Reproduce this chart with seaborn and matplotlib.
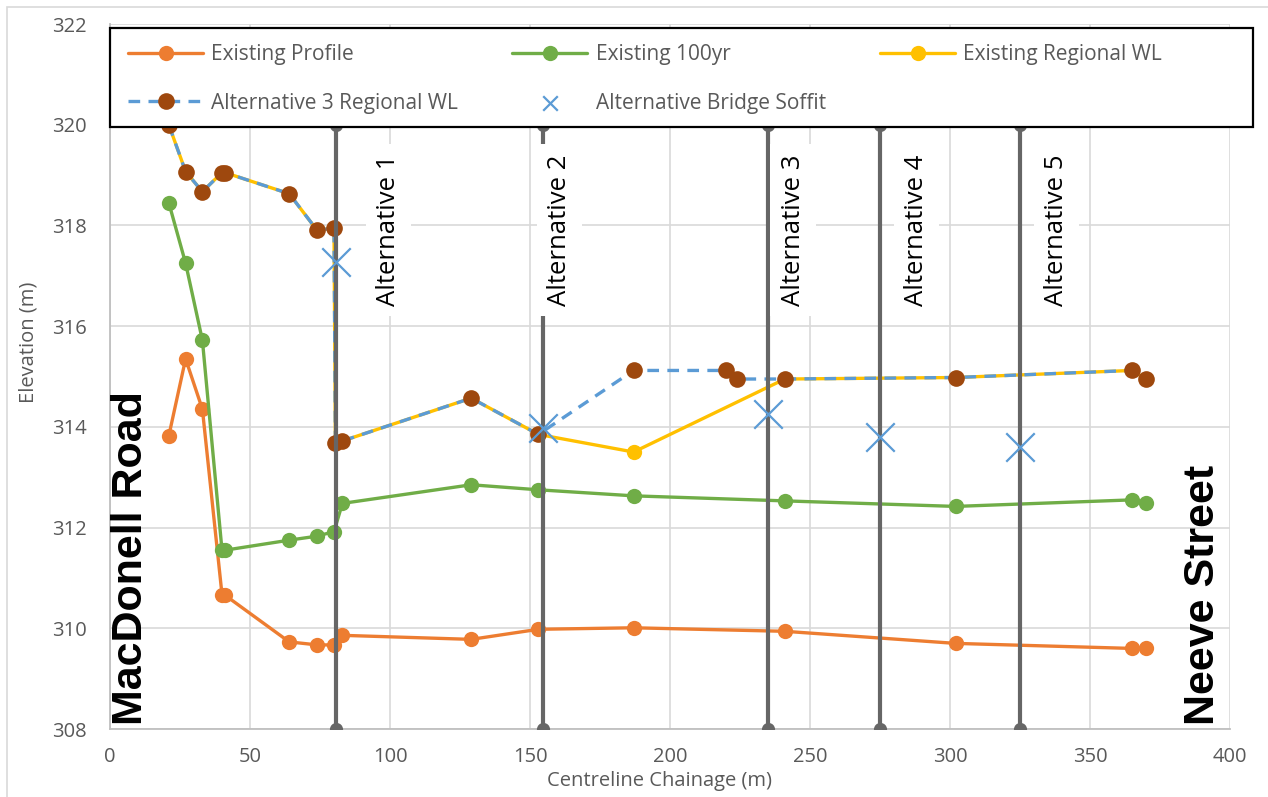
import matplotlib
matplotlib.use("Agg")
import matplotlib.pyplot as plt
import seaborn as sns
from matplotlib.patches import Rectangle

# Existing ground profile
profile_x = [21, 27, 33, 40, 41, 64, 74, 80, 83, 129, 153, 187, 241, 302, 365, 370]
profile_y = [313.82, 315.35, 314.35, 310.67, 310.66, 309.73, 309.67, 309.67, 309.86,
             309.78, 309.98, 310.01, 309.94, 309.70, 309.60, 309.60]

# Existing 100yr water level
flood_x = [21, 27, 33, 40, 41, 64, 74, 80, 83, 129, 153, 187, 241, 302, 365, 370]
flood_y = [318.45, 317.25, 315.72, 311.55, 311.55, 311.75, 311.83, 311.92, 312.48,
           312.85, 312.75, 312.63, 312.53, 312.42, 312.55, 312.48]

# Existing regional water level
regional_x = [21, 27, 33, 40, 41, 64, 74, 80, 80.5, 83, 129, 153, 187, 241, 302, 365, 370]
regional_y = [320.00, 319.07, 318.67, 319.05, 319.05, 318.63, 317.90, 317.95, 313.68,
              313.72, 314.57, 313.85, 313.50, 314.95, 314.98, 315.12, 314.95]

# Alternative 3 regional water level
alt3_x = [21, 27, 33, 40, 41, 64, 74, 80, 80.5, 83, 129, 153, 187, 220, 224, 241, 302, 365, 370]
alt3_y = [320.00, 319.07, 318.67, 319.05, 319.05, 318.63, 317.90, 317.95, 313.68, 313.72,
          314.57, 313.85, 315.12, 315.12, 314.95, 314.95, 314.98, 315.12, 314.95]

# Bridge alternatives
alt_names = ["Alternative 1", "Alternative 2", "Alternative 3", "Alternative 4", "Alternative 5"]
alt_x = [80.7, 154.7, 235, 275, 325]
alt_bottom = 308
alt_top = 320
soffit_y = [317.28, 313.97, 314.25, 313.80, 313.60]

# where the alternative labels sit
label_x = [99.5, 160.5, 244.0, 288.0, 338.0]
label_y = 317.9

c_orange = "#ED7D31"
c_green = "#70AD47"
c_yellow = "#FFC000"
c_brown = "#9E480E"
c_blue = "#5B9BD5"
c_gray = "#666666"
c_text = "#595959"

sns.set_style("white")
plt.rcParams["font.family"] = ["Open Sans", "DejaVu Sans"]

W, H = 1268, 797
fig = plt.figure(figsize=(W / 100, H / 100), dpi=100)
ax = fig.add_axes([110 / W, 1 - 729 / H, 1120 / W, 705 / H])

common = dict(sort=False, estimator=None, linewidth=2.4, marker="o", markersize=11,
              markeredgewidth=0, ax=ax, zorder=3)
sns.lineplot(x=profile_x, y=profile_y, color=c_orange, markerfacecolor=c_orange,
             label="Existing Profile", **common)
sns.lineplot(x=flood_x, y=flood_y, color=c_green, markerfacecolor=c_green,
             label="Existing 100yr", **common)
sns.lineplot(x=regional_x, y=regional_y, color=c_yellow, markerfacecolor=c_yellow,
             label="Existing Regional WL", **common)
sns.lineplot(x=alt3_x, y=alt3_y, sort=False, estimator=None, linewidth=2.4,
             linestyle=(0, (3.5, 2.5)), color=c_blue, marker="o", markersize=12,
             markerfacecolor=c_brown, markeredgecolor=c_brown, markeredgewidth=0,
             label="Alternative 3 Regional WL", ax=ax, zorder=4)

# vertical lines marking each bridge alternative
for x in alt_x:
    sns.lineplot(x=[x, x], y=[alt_bottom, alt_top], sort=False, estimator=None,
                 color=c_gray, linewidth=3, marker="o", markersize=9.5,
                 markerfacecolor=c_gray, markeredgewidth=0, ax=ax, zorder=5,
                 label="_nolegend_")

sns.scatterplot(x=alt_x, y=soffit_y, marker="x", s=420, color=c_blue, linewidth=1.6,
                ax=ax, zorder=6, label="Alternative Bridge Soffit")

for name, lx in zip(alt_names, label_x):
    ax.text(lx, label_y, name, rotation=90, ha="center", va="center", fontsize=18.5,
            color="black", zorder=7,
            bbox=dict(boxstyle="square,pad=0.4", fc="white", ec="none"))

ax.text(7.5, 308.08, "MacDonell Road", rotation=90, ha="center", va="bottom",
        fontsize=31, fontweight="bold", family="Liberation Sans", color="black", zorder=7)
ax.text(390.5, 308.08, "Neeve Street", rotation=90, ha="center", va="bottom",
        fontsize=31, fontweight="bold", family="Liberation Sans", color="black", zorder=7)

ax.set_xlim(0, 400)
ax.set_ylim(308, 322)
ax.set_xticks(range(0, 401, 50))
ax.set_yticks(range(308, 323, 2))
ax.grid(True, color="#D9D9D9", linewidth=1.2)
ax.set_axisbelow(True)
for side in ["top", "right"]:
    ax.spines[side].set_visible(False)
for side in ["left", "bottom"]:
    ax.spines[side].set_color("#BFBFBF")
    ax.spines[side].set_linewidth(1.3)
ax.tick_params(length=0, labelsize=14.5, labelcolor=c_text)
ax.tick_params(axis="x", pad=13)
ax.tick_params(axis="y", pad=17)
ax.set_xlabel("Centreline Chainage (m)", fontsize=14.5, color=c_text)
ax.xaxis.set_label_coords(0.491, -0.06)
ax.set_ylabel("Elevation (m)", fontsize=14.5, color=c_text)
ax.yaxis.set_label_coords(-0.064, 0.549)

handles, labels = ax.get_legend_handles_labels()
lookup = dict(zip(labels, handles))
order = ["Existing Profile", "Alternative 3 Regional WL", "Existing 100yr",
         "Alternative Bridge Soffit", "Existing Regional WL"]
ax.get_legend().remove()

# legend box (wider than its content, as in the source chart)
fig.patches.append(Rectangle((110 / W, 1 - 127 / H), 1143 / W, 99 / H, transform=fig.transFigure,
                             facecolor="white", edgecolor="black", linewidth=1.6, zorder=4))
leg = fig.legend([lookup[k] for k in order], order, ncol=3, loc="upper left",
                 bbox_to_anchor=(128 / W, 1 - 44 / H), bbox_transform=fig.transFigure,
                 borderaxespad=0, borderpad=0, fontsize=15, frameon=False,
                 handlelength=3.6, handletextpad=0.4, labelspacing=1.32, columnspacing=2.6)
leg.set_zorder(5)
for t in leg.get_texts():
    t.set_color(c_text)
for h in leg.legend_handles:
    if hasattr(h, "set_sizes"):
        h.set_sizes([110])

fig.patches.append(Rectangle((7 / W, -0.05), 1.2, 1 - 7 / H + 0.05, transform=fig.transFigure,
                             fill=False, edgecolor="#D9D9D9", linewidth=1.2))

fig.savefig("out.png", dpi=100)
